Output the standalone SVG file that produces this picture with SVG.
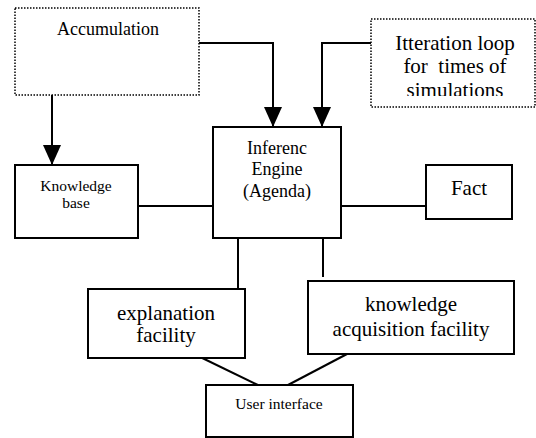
<svg xmlns="http://www.w3.org/2000/svg" width="536" height="438" viewBox="0 0 536 438">
  <style>
    .box { fill: #fff; stroke: #000; stroke-width: 2; }
    .dotted { fill: #fff; stroke: #000; stroke-width: 1.5; stroke-dasharray: 1.5 1.5; }
    .wire { fill: none; stroke: #000; stroke-width: 2; }
    text { fill: #000; text-anchor: middle; }
    .t21 { font-size: 21px; }
    .t18 { font-size: 18px; }
    .t15 { font-size: 15.5px; }
  </style>
  <defs>
    <marker id="head" markerUnits="userSpaceOnUse" markerWidth="22" markerHeight="18" refX="20" refY="9" orient="auto">
      <path d="M0,0 L20,9 L0,18 Z" fill="#000"/>
    </marker>
    <clipPath id="iterClip">
      <rect x="371" y="19" width="165" height="77"/>
    </clipPath>
  </defs>

  <rect width="536" height="438" fill="#fff"/>

  <g id="connectors">
    <path class="wire" d="M199,43 H273 V127" marker-end="url(#head)"/>
    <path class="wire" d="M371,43 H322 V127" marker-end="url(#head)"/>
    <path class="wire" d="M52,95 V165" marker-end="url(#head)"/>
    <line class="wire" x1="138" y1="206" x2="213" y2="206"/>
    <line class="wire" x1="341" y1="206" x2="426" y2="206"/>
    <line class="wire" x1="238" y1="238" x2="238" y2="289"/>
    <line class="wire" x1="323" y1="238" x2="323" y2="277"/>
    <line class="wire" x1="194" y1="354" x2="260" y2="386"/>
    <line class="wire" x1="347" y1="354" x2="288" y2="385"/>
  </g>

  <g font-family="Liberation Serif, serif">
  <g id="accumulation">
    <rect class="dotted" x="15" y="8" width="184" height="87"/>
    <text class="t18" x="108" y="35" font-family="Liberation Serif">Accumulation</text>
  </g>

  <g id="iteration-loop">
    <rect class="dotted" x="371" y="19" width="164" height="88"/>
    <g clip-path="url(#iterClip)">
      <text class="t21" x="455" y="50" font-family="Liberation Serif">Itteration loop</text>
      <text class="t21" x="455" y="73" font-family="Liberation Serif" xml:space="preserve">for  times of</text>
      <text class="t21" x="455" y="97" font-family="Liberation Serif">simulations</text>
    </g>
  </g>

  <g id="inference-engine">
    <rect class="box" x="213" y="127" width="128" height="111"/>
    <text class="t18" x="277" y="154" font-family="Liberation Serif">Inferenc</text>
    <text class="t18" x="277" y="175" font-family="Liberation Serif">Engine</text>
    <text class="t18" x="277" y="197" font-family="Liberation Serif">(Agenda)</text>
  </g>

  <g id="knowledge-base">
    <rect class="box" x="15" y="165" width="123" height="73"/>
    <text class="t15" x="76" y="191" font-family="Liberation Serif">Knowledge</text>
    <text class="t15" x="76" y="208" font-family="Liberation Serif">base</text>
  </g>

  <g id="fact">
    <rect class="box" x="426" y="165" width="86" height="54"/>
    <text class="t21" x="469" y="195" font-family="Liberation Serif">Fact</text>
  </g>

  <g id="explanation-facility">
    <rect class="box" x="88" y="289" width="157" height="69"/>
    <text class="t21" x="166" y="320" font-family="Liberation Serif">explanation</text>
    <text class="t21" x="166" y="342" font-family="Liberation Serif">facility</text>
  </g>

  <g id="knowledge-acquisition">
    <rect class="box" x="308" y="281" width="206" height="73"/>
    <text class="t21" x="411" y="311" font-family="Liberation Serif">knowledge</text>
    <text class="t21" x="411" y="336" font-family="Liberation Serif">acquisition facility</text>
  </g>

  <g id="user-interface">
    <rect class="box" x="206" y="385" width="147" height="52"/>
    <text class="t15" x="279" y="409" font-family="Liberation Serif">User interface</text>
  </g>
  </g>
</svg>
